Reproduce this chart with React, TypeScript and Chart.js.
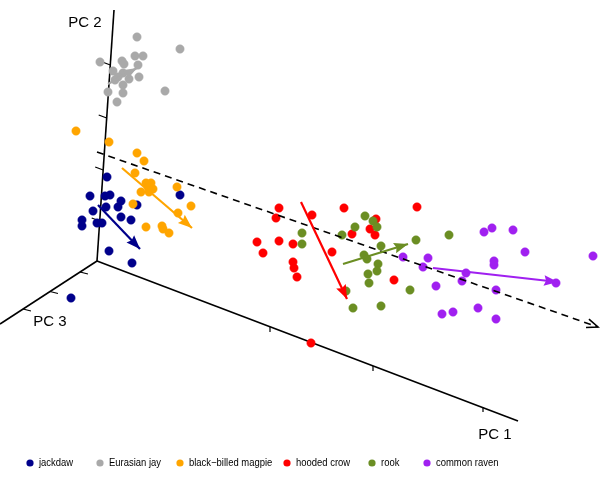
import React, { useEffect, useRef } from "react";
import { Chart, registerables } from "chart.js";

Chart.register(...registerables);

// Projected (2-D) coordinates of the 3-D PCA scores
const jackdawX = [107, 90, 105, 110, 180, 121, 118, 106, 137, 93, 121, 131, 82, 82, 97, 102, 109, 132, 71];
const jackdawY = [177, 196, 196, 195, 195, 201, 207, 207, 205, 211, 217, 220, 220, 226, 223, 223, 251, 263, 298];
const jayX = [137, 180, 135, 143, 100, 122, 124, 138, 113, 123, 118, 139, 129, 115, 123, 123, 108, 165, 117];
const jayY = [37, 49, 56, 56, 62, 61, 64, 65, 71, 73, 77, 77, 79, 80, 85, 93, 92, 91, 102];
const magpieX = [76, 109, 137, 144, 135, 146, 151, 148, 153, 141, 149, 177, 133, 191, 178, 146, 162, 163, 169];
const magpieY = [131, 142, 153, 161, 173, 183, 183, 187, 189, 192, 192, 187, 204, 206, 213, 227, 226, 229, 233];
const crowX = [279, 276, 312, 344, 417, 376, 370, 375, 352, 257, 279, 293, 263, 332, 293, 294, 297, 394, 311];
const crowY = [208, 218, 215, 208, 207, 219, 229, 235, 234, 242, 241, 244, 253, 252, 262, 268, 277, 280, 343];
const rookX = [365, 373, 377, 355, 302, 302, 342, 416, 449, 381, 364, 367, 378, 377, 368, 369, 410, 346, 353, 381];
const rookY = [216, 221, 227, 227, 233, 244, 235, 240, 235, 246, 255, 259, 264, 271, 274, 283, 290, 291, 308, 306];
const ravenX = [484, 492, 513, 525, 593, 403, 428, 494, 494, 423, 466, 462, 556, 436, 496, 478, 442, 453, 496];
const ravenY = [232, 228, 230, 252, 256, 257, 258, 261, 265, 267, 273, 281, 283, 286, 290, 308, 314, 312, 319];

// Group mean-shape vectors (start -> end)
const arrowFromX = [98, 108, 122, 301, 343, 433];
const arrowFromY = [205, 84, 168, 202, 264, 268];
const arrowToX = [140, 137, 192, 347, 408, 558];
const arrowToY = [249, 68, 228, 299, 244, 282];

const species = ["jackdaw", "Eurasian jay", "black\u2212billed magpie", "hooded crow", "rook", "common raven"];
const colors = ["#00008B", "#A9A9A9", "#FFA500", "#FF0000", "#6B8E23", "#A020F0"];
const seriesX = [jackdawX, jayX, magpieX, crowX, rookX, ravenX];
const seriesY = [jackdawY, jayY, magpieY, crowY, rookY, ravenY];

// Axis frame (origin and axis ends), dashed allometry vector
const originXY = [97, 261];
const pc1End = [518, 421];
const pc2End = [114, 10];
const pc3End = [0, 324];
const dashFrom = [97, 152];
const dashTo = [598, 327];
const pc1TicksX = [270, 373, 483];
const pc1TicksY = [327, 366, 407];
const pc2TicksX = [99.7, 103.2, 106.7, 110.3];
const pc2TicksY = [221, 170, 118, 65];
const pc3TicksX = [80, 50, 23];
const pc3TicksY = [272, 291.5, 309];
const axisLabels = ["PC 1", "PC 2", "PC 3"];
const axisLabelX = [495, 85, 50];
const axisLabelY = [435, 23, 322];
const legendDotX = [30, 100, 180, 287, 372, 427];
const legendY = 463;

function tickSegments(xs: number[], ys: number[], dx: number, dy: number) {
  const out: any[] = [];
  xs.forEach((x, i) => {
    out.push({ x, y: ys[i] });
    out.push({ x: x + dx, y: ys[i] + dy });
    out.push({ x: NaN, y: NaN });
  });
  return out;
}

const overlayPlugin = {
  id: "overlay",
  afterDatasetsDraw(chart: any) {
    const { ctx } = chart;
    const xs = chart.scales.x;
    const ys = chart.scales.y;
    chart.data.datasets.forEach((ds: any) => {
      if (!ds.arrowHead) return;
      const d = ds.data;
      const n = d.length;
      const x1 = xs.getPixelForValue(d[n - 2].x);
      const y1 = ys.getPixelForValue(d[n - 2].y);
      const x2 = xs.getPixelForValue(d[n - 1].x);
      const y2 = ys.getPixelForValue(d[n - 1].y);
      const ang = Math.atan2(y2 - y1, x2 - x1);
      ctx.save();
      if (ds.arrowHead === "open") {
        const L = 12, a = 0.38;
        ctx.strokeStyle = ds.borderColor;
        ctx.lineWidth = 1.6;
        ctx.beginPath();
        ctx.moveTo(x2 - L * Math.cos(ang - a), y2 - L * Math.sin(ang - a));
        ctx.lineTo(x2, y2);
        ctx.lineTo(x2 - L * Math.cos(ang + a), y2 - L * Math.sin(ang + a));
        ctx.stroke();
      } else {
        const L = 15, a = 0.36;
        ctx.fillStyle = ds.borderColor;
        ctx.beginPath();
        ctx.moveTo(x2, y2);
        ctx.lineTo(x2 - L * Math.cos(ang - a), y2 - L * Math.sin(ang - a));
        ctx.lineTo(x2 - L * 0.8 * Math.cos(ang), y2 - L * 0.8 * Math.sin(ang));
        ctx.lineTo(x2 - L * Math.cos(ang + a), y2 - L * Math.sin(ang + a));
        ctx.closePath();
        ctx.fill();
      }
      ctx.restore();
    });
  },
  afterDraw(chart: any) {
    const { ctx } = chart;
    const xs = chart.scales.x;
    const ys = chart.scales.y;
    ctx.save();
    ctx.fillStyle = "#000";
    ctx.font = '15px "Liberation Sans", Arial, sans-serif';
    ctx.textAlign = "center";
    ctx.textBaseline = "middle";
    axisLabels.forEach((t, i) => {
      ctx.fillText(t, xs.getPixelForValue(axisLabelX[i]), ys.getPixelForValue(axisLabelY[i]));
    });
    // legend
    species.forEach((name, i) => {
      const cx = xs.getPixelForValue(legendDotX[i]);
      const cy = ys.getPixelForValue(legendY);
      ctx.fillStyle = colors[i];
      ctx.beginPath();
      ctx.arc(cx, cy, 3.6, 0, Math.PI * 2);
      ctx.fill();
      ctx.save();
      ctx.translate(cx + 9, cy);
      ctx.scale(0.9, 1);
      ctx.fillStyle = "#000";
      ctx.textAlign = "left";
      ctx.font = '10.5px "Liberation Sans", Arial, sans-serif';
      ctx.fillText(name, 0, 0);
      ctx.restore();
    });
    ctx.restore();
  },
};

export default function App() {
  const ref = useRef<HTMLCanvasElement | null>(null);
  useEffect(() => {
    document.body.style.margin = "0";
    const lineDs = (data: any[], color: string, width: number, order: number, extra: any = {}) => ({
      type: "line",
      data,
      borderColor: color,
      backgroundColor: color,
      borderWidth: width,
      pointRadius: 0,
      showLine: true,
      spanGaps: false,
      fill: false,
      tension: 0,
      order,
      clip: false,
      ...extra,
    });
    const datasets: any[] = [];
    // axes
    datasets.push(lineDs([{ x: originXY[0], y: originXY[1] }, { x: pc1End[0], y: pc1End[1] }], "#000", 1.6, 100));
    datasets.push(lineDs([{ x: originXY[0], y: originXY[1] }, { x: pc2End[0], y: pc2End[1] }], "#000", 1.6, 100));
    datasets.push(lineDs([{ x: originXY[0], y: originXY[1] }, { x: pc3End[0], y: pc3End[1] }], "#000", 1.6, 100));
    datasets.push(lineDs(tickSegments(pc1TicksX, pc1TicksY, 0, 5), "#000", 1.2, 100));
    datasets.push(lineDs(tickSegments(pc2TicksX, pc2TicksY, -8, -3), "#000", 1.2, 100));
    datasets.push(lineDs(tickSegments(pc3TicksX, pc3TicksY, 8, 2), "#000", 1.2, 100));
    // species points
    species.forEach((name, i) => {
      datasets.push({
        type: "scatter",
        label: name,
        data: seriesX[i].map((x, j) => ({ x, y: seriesY[i][j] })),
        backgroundColor: colors[i],
        borderColor: colors[i],
        borderWidth: 0.5,
        pointRadius: 4.2,
        order: 50 - i,
        clip: false,
      });
    });
    // dashed vector
    datasets.push(
      lineDs([{ x: dashFrom[0], y: dashFrom[1] }, { x: dashTo[0], y: dashTo[1] }], "#000", 1.6, 5, {
        borderDash: [7, 5],
        arrowHead: "open",
      })
    );
    // group arrows
    species.forEach((_, i) => {
      datasets.push(
        lineDs(
          [{ x: arrowFromX[i], y: arrowFromY[i] }, { x: arrowToX[i], y: arrowToY[i] }],
          colors[i],
          2.2,
          2,
          { arrowHead: "filled" }
        )
      );
    });

    const chart = new Chart(ref.current as HTMLCanvasElement, {
      type: "scatter",
      data: { datasets },
      options: {
        animation: false,
        responsive: true,
        maintainAspectRatio: false,
        layout: { padding: 0, autoPadding: false },
        events: [],
        scales: {
          x: { type: "linear", min: 0, max: 600, display: false },
          y: { type: "linear", min: 0, max: 480, reverse: true, display: false },
        },
        plugins: { legend: { display: false }, tooltip: { enabled: false } },
      } as any,
      plugins: [overlayPlugin],
    } as any);
    return () => chart.destroy();
  }, []);
  return (
    <div style={{ position: "absolute", left: 0, top: 0, width: 600, height: 480, background: "#fff" }}>
      <canvas ref={ref} />
    </div>
  );
}
